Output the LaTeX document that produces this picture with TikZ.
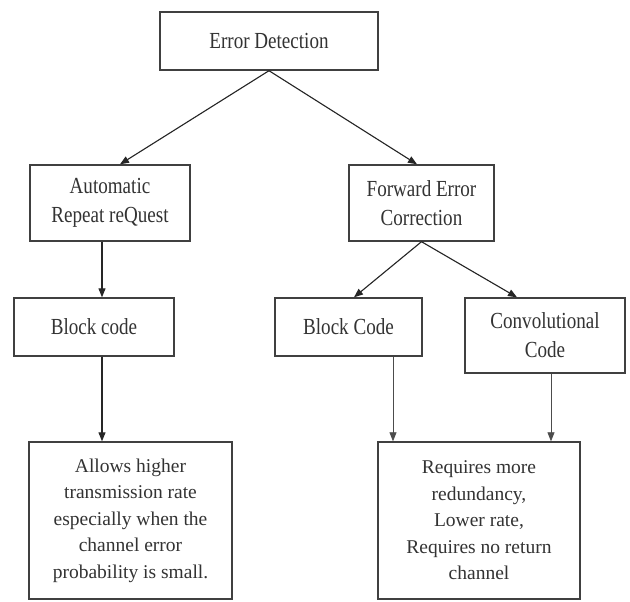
\documentclass[tikz,border=0pt]{standalone}
\usepackage{fontspec}
\setmainfont{Liberation Serif}
\newfontfamily\condfont[FakeStretch=0.83]{Liberation Serif}
\usetikzlibrary{arrows.meta}
\begin{document}
\begin{tikzpicture}[x=1pt,y=-1pt,
  box/.style={draw=black!75, line width=1.4pt, align=center,
    font=\condfont\fontsize{23}{29}\selectfont, text=black!80, inner sep=0pt},
  bigbox/.style={box, font=\fontsize{19.5}{26.5}\selectfont},
  arr/.style={-{Triangle[length=9pt,width=7pt]}, line width=1.1pt, draw=black!85, fill=black!85},
  thinarr/.style={-{Triangle[length=9pt,width=7pt]}, line width=0.8pt, draw=black!70, fill=black!70}]
\useasboundingbox[fill=white] (0,0) rectangle (630,602);
\node[box, minimum width=218pt, minimum height=58pt] (ed) at (269,41) {Error Detection};
\node[box, minimum width=160pt, minimum height=76pt] (arq) at (110,203) {Automatic\\Repeat reQuest};
\node[box, minimum width=145pt, minimum height=76pt] (fec) at (421.5,203) {Forward Error\\Correction};
\node[box, minimum width=160pt, minimum height=58pt] (bcl) at (94,327) {Block code};
\node[box, minimum width=147pt, minimum height=58pt] (bcr) at (348.5,327) {Block Code};
\node[box, minimum width=160pt, minimum height=75pt] (cc) at (545,335.5) {Convolutional\\Code};
\node[bigbox, minimum width=203pt, minimum height=157pt] (al) at (130.5,520.5) {Allows higher\\transmission rate\\especially when the\\channel error\\probability is small.};
\node[bigbox, minimum width=202pt, minimum height=157pt] (rr) at (479,520.5) {Requires more\\redundancy,\\Lower rate,\\Requires no return\\channel};
\draw[arr] (ed.south) -- ([xshift=10pt]arq.north);
\draw[arr] (ed.south) -- ([xshift=-4.5pt]fec.north);
\draw[arr] ([xshift=-8pt]arq.south) -- ([xshift=8pt]bcl.north);
\draw[arr] (fec.south) -- ([xshift=5.5pt]bcr.north);
\draw[arr] (fec.south) -- ([xshift=-28pt]cc.north);
\draw[arr] ([xshift=8pt]bcl.south) -- ([xshift=8pt]bcl.south |- al.north);
\draw[thinarr] ([xshift=44.5pt]bcr.south) -- ([xshift=44.5pt]bcr.south |- rr.north);
\draw[thinarr] ([xshift=6pt]cc.south) -- ([xshift=6pt]cc.south |- rr.north);
\end{tikzpicture}
\end{document}
